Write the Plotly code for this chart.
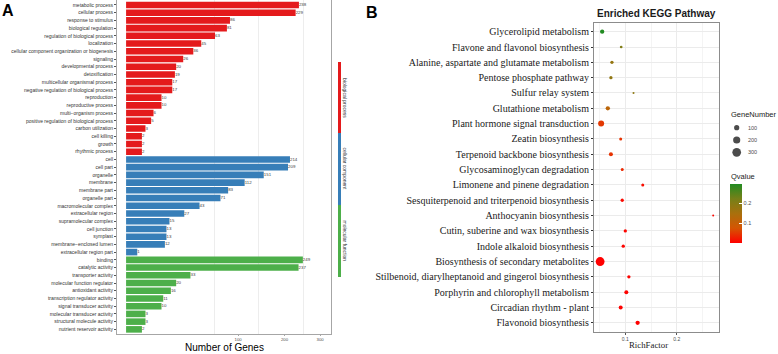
import numpy as np
import plotly.graph_objects as go

# ---------------- Panel A data (GO classification) ----------------
bp_terms = ["metabolic process", "cellular process", "response to stimulus", "biological regulation",
            "regulation of biological process", "localization",
            "cellular component organization or biogenesis", "signaling", "developmental process",
            "detoxification", "multicellular organismal process",
            "negative regulation of biological process", "reproduction", "reproductive process",
            "multi\u2212organism process", "positive regulation of biological process",
            "carbon utilization", "cell killing", "growth", "rhythmic process"]
bp_counts = [238, 229, 86, 81, 63, 45, 36, 26, 20, 19, 17, 17, 10, 10, 6, 5, 3, 2, 2, 2]

cc_terms = ["cell", "cell part", "organelle", "membrane", "membrane part", "organelle part",
            "macromolecular complex", "extracellular region", "supramolecular complex",
            "cell junction", "symplast", "membrane\u2212enclosed lumen", "extracellular region part"]
cc_counts = [214, 209, 151, 112, 83, 71, 43, 27, 15, 13, 13, 12, 1]

mf_terms = ["binding", "catalytic activity", "transporter activity", "molecular function regulator",
            "antioxidant activity", "transcription regulator activity", "signal transducer activity",
            "molecular transducer activity", "structural molecule activity", "nutrient reservoir activity"]
mf_counts = [249, 237, 33, 20, 16, 11, 10, 3, 3, 2]

ontology_names = ["biological process", "cellular component", "molecular function"]
ontology_colors = ["#E41A1C", "#377EB8", "#4DAF4A"]
gene_ticks = [100, 200, 300]

# ---------------- Panel B data (KEGG enrichment) ----------------
pathways = ["Glycerolipid metabolism", "Flavone and flavonol biosynthesis",
            "Alanine, aspartate and glutamate metabolism", "Pentose phosphate pathway",
            "Sulfur relay system", "Glutathione metabolism", "Plant hormone signal transduction",
            "Zeatin biosynthesis", "Terpenoid backbone biosynthesis", "Glycosaminoglycan degradation",
            "Limonene and pinene degradation", "Sesquiterpenoid and triterpenoid biosynthesis",
            "Anthocyanin biosynthesis", "Cutin, suberine and wax biosynthesis",
            "Indole alkaloid biosynthesis", "Biosynthesis of secondary metabolites",
            "Stilbenoid, diarylheptanoid and gingerol biosynthesis",
            "Porphyrin and chlorophyll metabolism", "Circadian rhythm - plant", "Flavonoid biosynthesis"]
rich_factor = [0.055, 0.092, 0.074, 0.072, 0.116, 0.066, 0.053, 0.091, 0.072, 0.094,
               0.134, 0.094, 0.271, 0.100, 0.096, 0.051, 0.107, 0.102, 0.091, 0.124]
gene_number = [65, 19, 34, 34, 6, 65, 137, 26, 55, 26, 26, 34, 5, 34, 34, 310, 34, 55, 55, 65]
qvalue = [0.30, 0.21, 0.18, 0.185, 0.19, 0.12, 0.05, 0.045, 0.045, 0.035,
          0.012, 0.008, 0.006, 0.004, 0.004, 0.00001, 0.003, 0.002, 0.002, 0.001]
size_breaks = [100, 200, 300]
q_ticks = [0.1, 0.2]
rich_ticks = [0.1, 0.2]

W, H = 778, 354
def px(x): return x / W
def py(y): return 1 - y / H

def point_diam(n):
    return np.sqrt(2.65 + 0.2435 * np.asarray(n, dtype=float))

q_scale = [[0, "#FF0000"], [0.25, "#D55503"], [0.5, "#A9700D"], [0.75, "#768018"], [1, "#228B22"]]

SANS = "Liberation Sans, Arial, sans-serif"
SERIF = "Liberation Serif, Times New Roman, serif"

fig = go.Figure()

# Panel A bars
for terms, counts, col in zip([bp_terms, cc_terms, mf_terms], [bp_counts, cc_counts, mf_counts], ontology_colors):
    fig.add_trace(go.Bar(x=np.sqrt(counts), y=terms, orientation="h", width=0.85,
                         marker=dict(color=col, line=dict(width=0)),
                         xaxis="x", yaxis="y", showlegend=False, hoverinfo="skip"))
all_terms = bp_terms + cc_terms + mf_terms
all_counts = bp_counts + cc_counts + mf_counts
fig.add_trace(go.Scatter(x=np.sqrt(all_counts), y=all_terms, mode="text",
                         text=[str(c) for c in all_counts], textposition="middle right",
                         textfont=dict(size=4.4, color="#404040", family=SANS),
                         xaxis="x", yaxis="y", showlegend=False, cliponaxis=False, hoverinfo="skip"))

# Panel B points
fig.add_trace(go.Scatter(
    x=rich_factor, y=pathways, mode="markers", xaxis="x2", yaxis="y2", showlegend=False,
    marker=dict(size=point_diam(gene_number), color=qvalue, colorscale=q_scale,
                cmin=min(qvalue), cmax=max(qvalue), line=dict(width=0), opacity=1,
                showscale=True,
                colorbar=dict(x=px(730), xanchor="left", y=py(213.35), yanchor="middle",
                              len=58.7, lenmode="pixels", thickness=12, thicknessmode="pixels",
                              xpad=0, ypad=0, outlinewidth=0, tickvals=q_ticks,
                              ticktext=[str(t) for t in q_ticks], ticks="inside",
                              tickcolor="white", ticklen=3,
                              tickfont=dict(size=5.5, color="#4D4D4D", family=SANS)))))

# Size legend
fig.add_trace(go.Scatter(x=[6.7] * len(size_breaks), y=list(range(len(size_breaks))), mode="markers",
                         marker=dict(size=point_diam(size_breaks), color="black", line=dict(width=0)),
                         xaxis="x3", yaxis="y3", showlegend=False, hoverinfo="skip"))

annotations = [
    dict(text="<b>A</b>", x=px(7.5), y=py(11), xref="paper", yref="paper", showarrow=False,
         font=dict(size=16, family=SANS, color="black"), xanchor="center", yanchor="middle"),
    dict(text="<b>B</b>", x=px(372), y=py(12), xref="paper", yref="paper", showarrow=False,
         font=dict(size=16, family=SANS, color="black"), xanchor="center", yanchor="middle"),
    dict(text="<b>Enriched KEGG Pathway</b>", x=px(656), y=py(14), xref="paper", yref="paper",
         showarrow=False, font=dict(size=10, family=SANS, color="#1A1A1A"),
         xanchor="center", yanchor="middle"),
    dict(text="Number of Genes", x=px(224), y=0, xref="paper", yref="paper", showarrow=False,
         font=dict(size=10, family=SANS, color="black"), xanchor="center", yanchor="bottom",
         borderpad=0),
    dict(text="RichFactor", x=px(648.5), y=py(345), xref="paper", yref="paper", showarrow=False,
         font=dict(size=8.8, family=SERIF, color="#1A1A1A"), xanchor="center", yanchor="middle"),
    dict(text="GeneNumber", x=px(729), y=py(115), xref="paper", yref="paper", showarrow=False,
         font=dict(size=7.5, family=SANS, color="#1A1A1A"), xanchor="left", yanchor="middle"),
    dict(text="Qvalue", x=px(729), y=py(176.7), xref="paper", yref="paper", showarrow=False,
         font=dict(size=7.5, family=SANS, color="#1A1A1A"), xanchor="left", yanchor="middle"),
]
for i, b in enumerate(size_breaks):
    annotations.append(dict(text=str(b), x=16, y=i, xref="x3", yref="y3", showarrow=False,
                            font=dict(size=5.5, family=SANS, color="#4D4D4D"),
                            xanchor="left", yanchor="middle"))

# Ontology strip (side key)
strip_bounds = [(62, 133), (133, 205), (205, 277)]
shapes = []
for (y0, y1), col, name in zip(strip_bounds, ontology_colors, ontology_names):
    shapes.append(dict(type="rect", xref="paper", yref="paper", x0=px(338), x1=px(341),
                       y0=py(y1), y1=py(y0), fillcolor=col, line=dict(width=0)))
    annotations.append(dict(text=name, x=px(344.5), y=py((y0 + y1) / 2), xref="paper", yref="paper",
                            showarrow=False, textangle=90,
                            font=dict(size=5, family=SANS, color="#333333"),
                            xanchor="center", yanchor="middle"))

fig.update_layout(
    width=W, height=H, margin=dict(l=0, r=0, t=0, b=0),
    paper_bgcolor="white", plot_bgcolor="white", showlegend=False,
    xaxis=dict(domain=[px(117), px(331)], range=[-0.81, 18.29], anchor="y",
               tickvals=np.sqrt(gene_ticks), ticktext=[str(t) for t in gene_ticks],
               showgrid=False, zeroline=False,
               minor=dict(tickvals=np.sqrt([62, 140, 250]), showgrid=True,
                          gridcolor="#EDEDED", gridwidth=1, ticks=""),
               showline=True, mirror=True, linecolor="#A6A6A6", linewidth=1,
               ticks="outside", ticklen=1, tickcolor="#A6A6A6", ticklabelstandoff=0,
               tickfont=dict(size=4.3, color="#4D4D4D", family=SANS)),
    yaxis=dict(domain=[1 - 334 / H, 1 - 0.3 / H], anchor="x", type="category",
               categoryorder="array", categoryarray=all_terms, range=[len(all_terms) - 0.4, -0.6],
               showgrid=False, zeroline=False, showline=True, mirror=True,
               linecolor="#A6A6A6", linewidth=1, ticks="outside", ticklen=2, tickcolor="#555555",
               tickfont=dict(size=5, color="#333333", family=SANS)),
    xaxis2=dict(domain=[px(594), px(719)], range=[0.0391, 0.2823], anchor="y2",
                tickvals=rich_ticks, ticktext=[str(t) for t in rich_ticks],
                showgrid=True, gridcolor="#EBEBEB", gridwidth=1, zeroline=False,
                minor=dict(tickvals=[0.05, 0.15, 0.25], showgrid=True, gridcolor="#F4F4F4",
                           gridwidth=1, ticks=""),
                showline=True, mirror=True, linecolor="#8C8C8C", linewidth=1,
                ticks="outside", ticklen=2, tickcolor="#555555",
                tickfont=dict(size=5, color="#4D4D4D", family=SANS)),
    yaxis2=dict(domain=[1 - 332 / H, 1 - 22.5 / H], anchor="x2", type="category",
                categoryorder="array", categoryarray=pathways, range=[len(pathways) - 0.4, -0.6],
                showgrid=True, gridcolor="#EBEBEB", gridwidth=1, zeroline=False,
                showline=True, mirror=True, linecolor="#8C8C8C", linewidth=1,
                ticks="outside", ticklen=2, tickcolor="#333333",
                tickfont=dict(size=10, color="#1A1A1A", family=SERIF)),
    xaxis3=dict(domain=[px(730), px(760)], range=[0, 30], visible=False, anchor="y3"),
    yaxis3=dict(domain=[1 - 158.45 / H, 1 - 121.55 / H], range=[2.5, -0.5], visible=False, anchor="x3"),
    annotations=annotations, shapes=shapes,
)

fig.write_html("out.html", config={"displayModeBar": False},
               post_script="document.body.style.margin='0';document.body.style.overflow='hidden';")
